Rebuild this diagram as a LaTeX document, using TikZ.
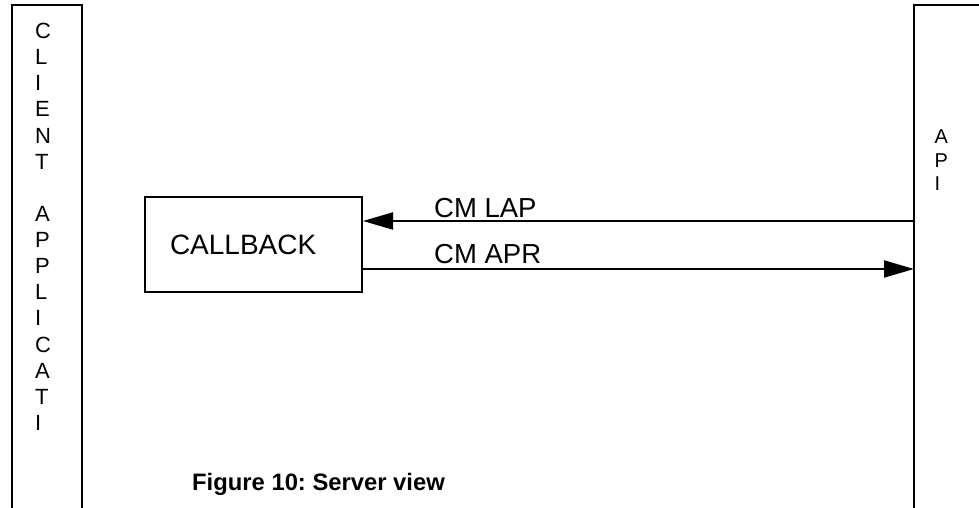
\documentclass[tikz,border=0pt]{standalone}
\usepackage{fontspec}
\setmainfont{Liberation Sans}
\usetikzlibrary{arrows.meta}
\begin{document}
\frenchspacing
\begin{tikzpicture}[x=1pt,y=-1pt,
  frame/.style={line width=2pt, line cap=rect},
  boxnode/.style={draw, line width=2pt, inner ysep=0pt, inner xsep=25pt,
    text width=167pt, minimum height=95pt, align=left,
    font=\fontsize{28}{33}\selectfont},
  msg/.style={line width=2pt, -{Triangle[length=30pt,width=17pt]}},
  msglabel/.style={anchor=base west, inner sep=0pt, font=\fontsize{27.5}{33}\selectfont},
  vlabel/.style={anchor=north west, inner sep=0pt, align=left}
]
\useasboundingbox (0,0) rectangle (979,508);

% client application column (open at the bottom)
\draw[frame] (11.7,508) -- (11.7,5) -- (82,5) -- (82,508);
\node[vlabel, font=\fontsize{22}{26.13}\selectfont] (client) at (35,23)
  {C\\L\\I\\E\\N\\T\\[26.13pt]A\\P\\P\\L\\I\\C\\A\\T\\I};

% API column (open at the right and bottom)
\draw[frame] (914,508) -- (914,5) -- (979,5);
\node[vlabel, font=\fontsize{20}{23.3}\selectfont] (api) at (934.5,130)
  {A\\P\\I};

% callback block
\node[boxnode] (cb) at (253.5,244.5) {CALLBACK};

% messages between the API and the callback
\coordinate (lapR) at (914,221);
\coordinate (aprR) at (914,269);
\draw[msg] (lapR) -- (cb.east |- lapR);
\draw[msg] (cb.east |- aprR) -- (aprR);
\node[msglabel] (lap) at (434,217) {CM LAP};
\node[msglabel] (apr) at (434,263) {CM APR};

% caption
\node[anchor=base west, inner sep=0pt, font=\bfseries\fontsize{23.8}{28}\selectfont]
  (caption) at (192,490) {Figure 10: Server view};
\end{tikzpicture}
\end{document}
